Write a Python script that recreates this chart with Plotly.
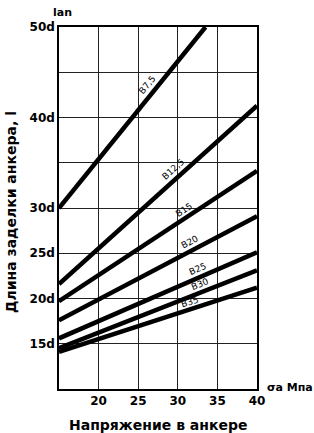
import plotly.graph_objects as go
import math

# Data
series_names = ["B7,5", "B12,5", "B15", "B20", "B25", "B30", "B35"]
x_starts = [15, 15, 15, 15, 15, 15, 15]
y_starts = [30.0, 21.6, 19.7, 17.6, 15.6, 14.5, 14.1]
x_ends = [33.5, 40, 40, 40, 40, 40, 40]
y_ends = [50.0, 41.3, 34.1, 29.1, 25.1, 23.1, 21.2]
label_pos = [27.0, 30.2, 31.3, 32.0, 32.9, 33.2, 31.8]  # x (MPa) where label sits
label_off = [9, 9, 8, 8, 8, 8, 7]

y_tickvals = [15, 20, 25, 30, 35, 40, 45, 50]
y_ticktext = ["15d", "20d", "25d", "30d", "", "40d", "", "50d"]
x_tickvals = [20, 25, 30, 35, 40]
x_ticktext = ["20", "25", "30", "35", "40"]

W, H = 314, 433
ML, MR, MT, MB = 59, 57, 27, 44
x_range = [15, 40]
y_range = [10, 50]
pw = W - ML - MR
ph = H - MT - MB

fig = go.Figure()
for i, name in enumerate(series_names):
    fig.add_trace(go.Scatter(
        x=[x_starts[i], x_ends[i]], y=[y_starts[i], y_ends[i]],
        mode="lines", line=dict(color="black", width=4.5),
        showlegend=False, hoverinfo="skip", cliponaxis=False))

for i, name in enumerate(series_names):
    x0, y0, x1, y1 = x_starts[i], y_starts[i], x_ends[i], y_ends[i]
    dxp = (x1 - x0) / (x_range[1] - x_range[0]) * pw
    dyp = (y1 - y0) / (y_range[1] - y_range[0]) * ph
    ang = math.degrees(math.atan2(dyp, dxp))
    lx = label_pos[i]
    ly = y0 + (y1 - y0) * (lx - x0) / (x1 - x0)
    off = label_off[i]
    ox = -off * math.sin(math.radians(ang))
    oy = off * math.cos(math.radians(ang))
    fig.add_annotation(x=lx, y=ly, text=name, showarrow=False,
                       textangle=-ang, xshift=ox, yshift=oy,
                       xanchor="center", yanchor="middle",
                       font=dict(family="DejaVu Sans", size=9, color="black"))

fig.add_annotation(xref="paper", yref="paper", x=0.0, y=1.0, yshift=15, xshift=3,
                   text="lan", showarrow=False, xanchor="center", yanchor="middle",
                   font=dict(family="DejaVu Sans", size=11, color="black", weight="bold"))
fig.add_annotation(xref="paper", yref="paper", x=1.0, y=0.0, xshift=8, yshift=2,
                   text="σа Мпа", showarrow=False, xanchor="left", yanchor="middle",
                   font=dict(family="DejaVu Sans", size=11, color="black", weight="bold"))
fig.add_annotation(xref="paper", yref="paper", x=0.5, y=0.0, yshift=-36,
                   text="Напряжение в анкере", showarrow=False,
                   xanchor="center", yanchor="middle",
                   font=dict(family="DejaVu Sans", size=14, color="black", weight="bold"))
fig.add_annotation(xref="paper", yref="paper", x=0.0, xshift=-48, y=(389 - 212) / ph,
                   text="Длина заделки анкера, l", showarrow=False, textangle=-90,
                   xanchor="center", yanchor="middle",
                   font=dict(family="DejaVu Sans", size=14, color="black", weight="bold"))

axis_common = dict(showline=True, linecolor="black", linewidth=1.5, mirror=True,
                   showgrid=True, gridcolor="#222", gridwidth=1.2, zeroline=False,
                   ticks="", tickfont=dict(family="DejaVu Sans", size=12, color="black", weight="bold"))
fig.update_xaxes(range=x_range, tickvals=x_tickvals, ticktext=x_ticktext, **axis_common)
fig.update_yaxes(range=y_range, tickvals=y_tickvals, ticktext=y_ticktext, **axis_common)

fig.update_layout(width=W, height=H, margin=dict(l=ML, r=MR, t=MT, b=MB),
                  paper_bgcolor="white", plot_bgcolor="white")
fig.write_html("out.html")
